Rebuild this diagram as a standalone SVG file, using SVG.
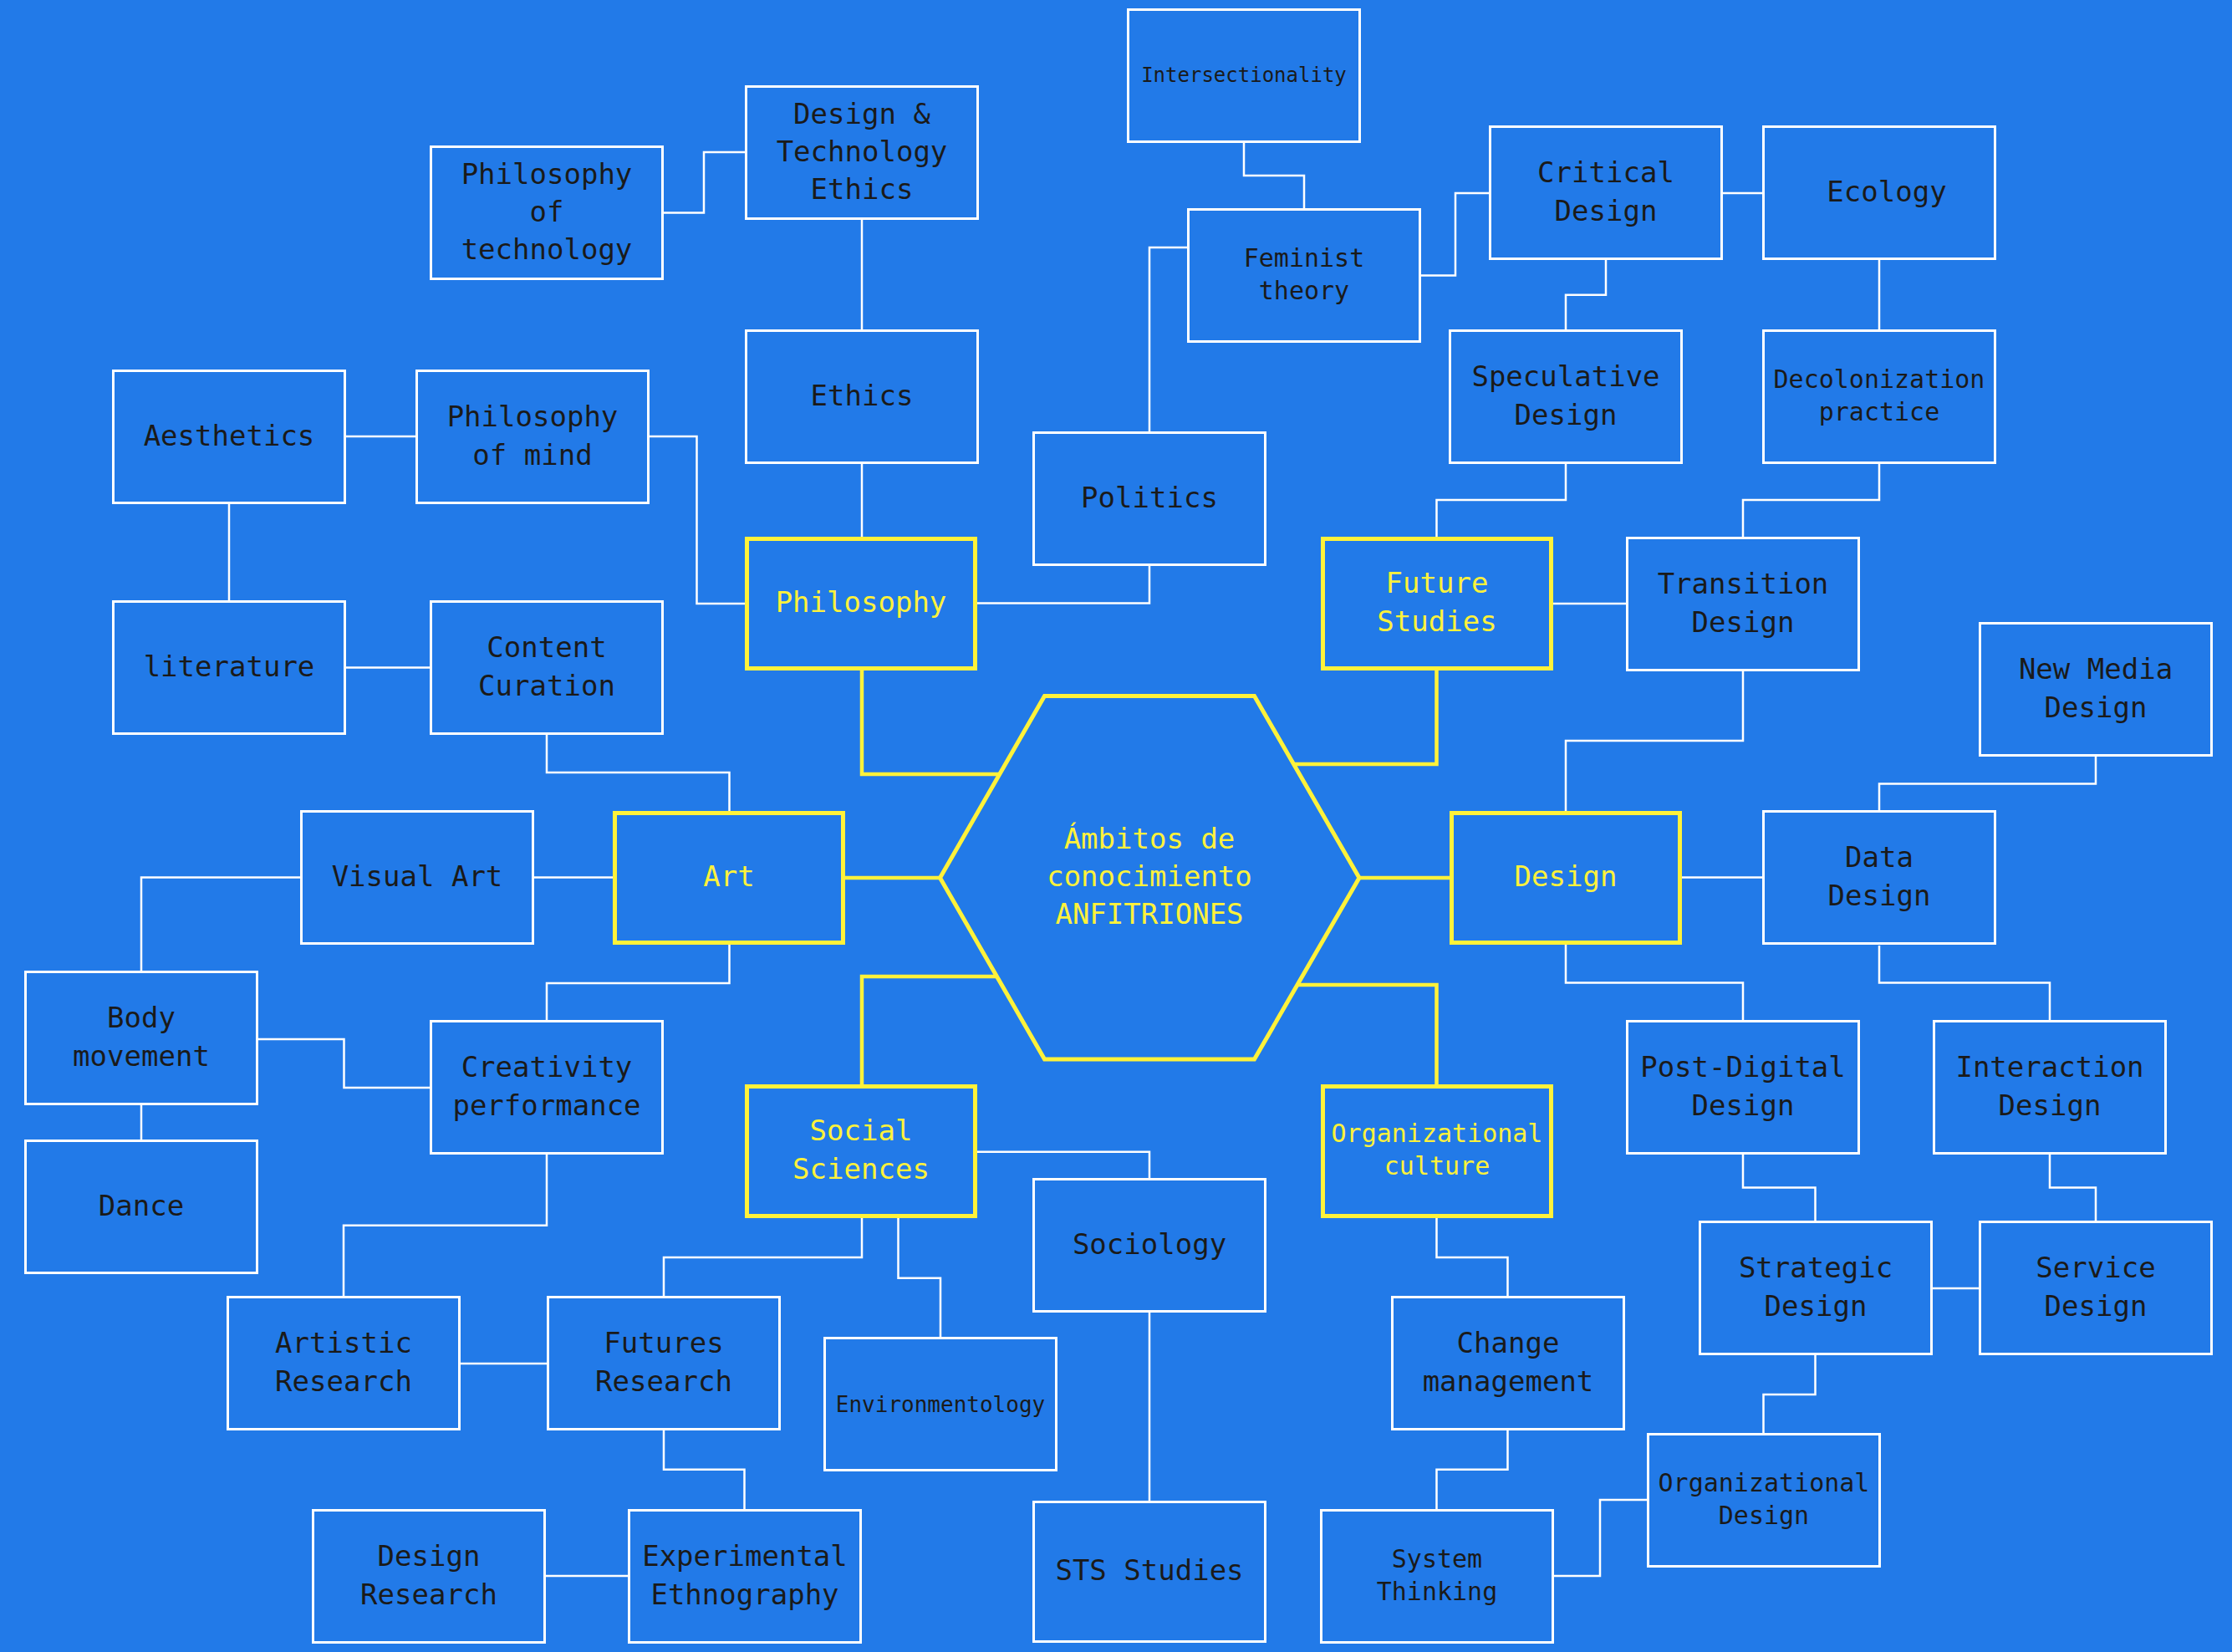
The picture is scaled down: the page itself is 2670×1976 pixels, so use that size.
<svg xmlns="http://www.w3.org/2000/svg" width="2670" height="1976" viewBox="0 0 2670 1976">
<style>
.bg{fill:#227AE8}
.n rect{fill:#227AE8;stroke:#FFFFFF;stroke-width:3}
.k rect,.k polygon{fill:#227AE8;stroke:#FFF23A;stroke-width:5}
text{font-family:"DejaVu Sans Mono","Liberation Mono",monospace;font-size:34px;fill:#1A1A1A;text-anchor:middle}
.k text{fill:#FFF23A}
text.f30{font-size:30px}
text.f26{font-size:26px}
text.f24{font-size:24px}
.c{fill:none;stroke:#FFFFFF;stroke-width:2.5}
.cy{fill:none;stroke:#FFF23A;stroke-width:4.5}
</style>
<rect class="bg" x="0" y="0" width="2670" height="1976"/>
<g id="connectors">
<polyline class="c" points="794,254.5 842,254.5 842,182 891,182"/>
<polyline class="c" points="1031,263 1031,394"/>
<polyline class="c" points="1031,555 1031,642"/>
<polyline class="c" points="1488,171 1488,210 1560,210 1560,249"/>
<polyline class="c" points="1420,296 1375,296 1375,516"/>
<polyline class="c" points="1700,329.5 1741,329.5 1741,231 1781,231"/>
<polyline class="c" points="2061,231 2108,231"/>
<polyline class="c" points="1921,311 1921,352.7 1873,352.7 1873,394"/>
<polyline class="c" points="2248,311 2248,394"/>
<polyline class="c" points="1873,555 1873,598 1718.5,598 1718.5,642"/>
<polyline class="c" points="2248,555 2248,598 2085,598 2085,642"/>
<polyline class="c" points="413,522 497,522"/>
<polyline class="c" points="274,603 274,718"/>
<polyline class="c" points="777,522 833.5,522 833.5,722 891,722"/>
<polyline class="c" points="1375,677 1375,721.5 1169,721.5"/>
<polyline class="c" points="1858,722 1945,722"/>
<polyline class="c" points="413,798.5 514,798.5"/>
<polyline class="c" points="654,879 654,924 872.5,924 872.5,970"/>
<polyline class="c" points="2085,803 2085,886 1873,886 1873,970"/>
<polyline class="c" points="2507,905 2507,937.5 2248,937.5 2248,969"/>
<polyline class="c" points="639,1049.5 733,1049.5"/>
<polyline class="c" points="359,1049.5 169,1049.5 169,1161"/>
<polyline class="c" points="2012,1049.5 2108,1049.5"/>
<polyline class="c" points="872.5,1130 872.5,1176 654,1176 654,1220"/>
<polyline class="c" points="309,1243 411.5,1243 411.5,1301 514,1301"/>
<polyline class="c" points="1873,1130 1873,1175.5 2085,1175.5 2085,1220"/>
<polyline class="c" points="2248,1131 2248,1175.5 2452,1175.5 2452,1220"/>
<polyline class="c" points="169,1322 169,1363"/>
<polyline class="c" points="654,1381 654,1465.7 411,1465.7 411,1550"/>
<polyline class="c" points="1031,1457 1031,1504 794,1504 794,1550"/>
<polyline class="c" points="1074.5,1457 1074.5,1528.7 1125,1528.7 1125,1599"/>
<polyline class="c" points="1169,1377.8 1375,1377.8 1375,1409"/>
<polyline class="c" points="1375,1570 1375,1795"/>
<polyline class="c" points="551,1631 654,1631"/>
<polyline class="c" points="794,1711 794,1757.7 890.5,1757.7 890.5,1805"/>
<polyline class="c" points="653,1885 751,1885"/>
<polyline class="c" points="1718.5,1457 1718.5,1504 1803.5,1504 1803.5,1550"/>
<polyline class="c" points="1803.5,1711 1803.5,1757.7 1718.5,1757.7 1718.5,1805"/>
<polyline class="c" points="1859,1885 1914,1885 1914,1794 1970,1794"/>
<polyline class="c" points="2085,1381 2085,1420.6 2171.5,1420.6 2171.5,1460"/>
<polyline class="c" points="2452,1381 2452,1420.6 2507,1420.6 2507,1460"/>
<polyline class="c" points="2311,1541 2367,1541"/>
<polyline class="c" points="2171.5,1621 2171.5,1668 2109.5,1668 2109.5,1714"/>
<polyline class="cy" points="1031,802 1031,926 1210,926"/>
<polyline class="cy" points="1718.5,802 1718.5,914 1540,914"/>
<polyline class="cy" points="1011,1050 1140,1050"/>
<polyline class="cy" points="1610,1050 1734,1050"/>
<polyline class="cy" points="1205,1168 1031,1168 1031,1297"/>
<polyline class="cy" points="1540,1178 1718.5,1178 1718.5,1297"/>
</g>
<g id="hub" class="k">
<polygon points="1249.5,832.5 1500.5,832.5 1626,1050 1500.5,1267 1249.5,1267 1124.5,1050"/>
<text x="1375" y="1015">Ámbitos de</text>
<text x="1375" y="1060">conocimiento</text>
<text x="1375" y="1105">ANFITRIONES</text>
</g>
<g id="philosophy" class="k"><rect x="893.5" y="644.5" width="273" height="155"/><text x="1030" y="732">Philosophy</text></g>
<g id="future-studies" class="k"><rect x="1582.5" y="644.5" width="273" height="155"/><text x="1719" y="709">Future</text><text x="1719" y="755">Studies</text></g>
<g id="art" class="k"><rect x="735.5" y="972.5" width="273" height="155"/><text x="872" y="1060">Art</text></g>
<g id="design" class="k"><rect x="1736.5" y="972.5" width="273" height="155"/><text x="1873" y="1060">Design</text></g>
<g id="social-sciences" class="k"><rect x="893.5" y="1299.5" width="273" height="155"/><text x="1030" y="1364">Social</text><text x="1030" y="1410">Sciences</text></g>
<g id="organizational-culture" class="k"><rect x="1582.5" y="1299.5" width="273" height="155"/><text class="f30" x="1719" y="1366">Organizational</text><text class="f30" x="1719" y="1405">culture</text></g>
<g id="philosophy-of-technology" class="n"><rect x="515.5" y="175.5" width="277" height="158"/><text x="654" y="219.5">Philosophy</text><text x="654" y="264.5">of</text><text x="654" y="309.5">technology</text></g>
<g id="design-technology-ethics" class="n"><rect x="892.5" y="103.5" width="277" height="158"/><text x="1031" y="147.5">Design &amp;</text><text x="1031" y="192.5">Technology</text><text x="1031" y="237.5">Ethics</text></g>
<g id="intersectionality" class="n"><rect x="1349.5" y="11.5" width="277" height="158"/><text class="f24" x="1488" y="97.5">Intersectionality</text></g>
<g id="feminist-theory" class="n"><rect x="1421.5" y="250.5" width="277" height="158"/><text class="f30" x="1560" y="318.5">Feminist</text><text class="f30" x="1560" y="357.5">theory</text></g>
<g id="critical-design" class="n"><rect x="1782.5" y="151.5" width="277" height="158"/><text x="1921" y="217.5">Critical</text><text x="1921" y="263.5">Design</text></g>
<g id="ecology" class="n"><rect x="2109.5" y="151.5" width="277" height="158"/><text x="2257" y="240.5">Ecology</text></g>
<g id="aesthetics" class="n"><rect x="135.5" y="443.5" width="277" height="158"/><text x="274" y="532.5">Aesthetics</text></g>
<g id="philosophy-of-mind" class="n"><rect x="498.5" y="443.5" width="277" height="158"/><text x="637" y="509.5">Philosophy</text><text x="637" y="555.5">of mind</text></g>
<g id="ethics" class="n"><rect x="892.5" y="395.5" width="277" height="158"/><text x="1031" y="484.5">Ethics</text></g>
<g id="speculative-design" class="n"><rect x="1734.5" y="395.5" width="277" height="158"/><text x="1873" y="461.5">Speculative</text><text x="1873" y="507.5">Design</text></g>
<g id="decolonization-practice" class="n"><rect x="2109.5" y="395.5" width="277" height="158"/><text class="f30" x="2248" y="463.5">Decolonization</text><text class="f30" x="2248" y="502.5">practice</text></g>
<g id="politics" class="n"><rect x="1236.5" y="517.5" width="277" height="158"/><text x="1375" y="606.5">Politics</text></g>
<g id="transition-design" class="n"><rect x="1946.5" y="643.5" width="277" height="158"/><text x="2085" y="709.5">Transition</text><text x="2085" y="755.5">Design</text></g>
<g id="literature" class="n"><rect x="135.5" y="719.5" width="277" height="158"/><text x="274" y="808.5">literature</text></g>
<g id="content-curation" class="n"><rect x="515.5" y="719.5" width="277" height="158"/><text x="654" y="785.5">Content</text><text x="654" y="831.5">Curation</text></g>
<g id="new-media-design" class="n"><rect x="2368.5" y="745.5" width="277" height="158"/><text x="2507" y="811.5">New Media</text><text x="2507" y="857.5">Design</text></g>
<g id="visual-art" class="n"><rect x="360.5" y="970.5" width="277" height="158"/><text x="499" y="1059.5">Visual Art</text></g>
<g id="data-design" class="n"><rect x="2109.5" y="970.5" width="277" height="158"/><text x="2248" y="1036.5">Data</text><text x="2248" y="1082.5">Design</text></g>
<g id="body-movement" class="n"><rect x="30.5" y="1162.5" width="277" height="158"/><text x="169" y="1228.5">Body</text><text x="169" y="1274.5">movement</text></g>
<g id="creativity-performance" class="n"><rect x="515.5" y="1221.5" width="277" height="158"/><text x="654" y="1287.5">Creativity</text><text x="654" y="1333.5">performance</text></g>
<g id="post-digital-design" class="n"><rect x="1946.5" y="1221.5" width="277" height="158"/><text x="2085" y="1287.5">Post-Digital</text><text x="2085" y="1333.5">Design</text></g>
<g id="interaction-design" class="n"><rect x="2313.5" y="1221.5" width="277" height="158"/><text x="2452" y="1287.5">Interaction</text><text x="2452" y="1333.5">Design</text></g>
<g id="dance" class="n"><rect x="30.5" y="1364.5" width="277" height="158"/><text x="169" y="1453.5">Dance</text></g>
<g id="sociology" class="n"><rect x="1236.5" y="1410.5" width="277" height="158"/><text x="1375" y="1499.5">Sociology</text></g>
<g id="strategic-design" class="n"><rect x="2033.5" y="1461.5" width="277" height="158"/><text x="2172" y="1527.5">Strategic</text><text x="2172" y="1573.5">Design</text></g>
<g id="service-design" class="n"><rect x="2368.5" y="1461.5" width="277" height="158"/><text x="2507" y="1527.5">Service</text><text x="2507" y="1573.5">Design</text></g>
<g id="artistic-research" class="n"><rect x="272.5" y="1551.5" width="277" height="158"/><text x="411" y="1617.5">Artistic</text><text x="411" y="1663.5">Research</text></g>
<g id="futures-research" class="n"><rect x="655.5" y="1551.5" width="277" height="158"/><text x="794" y="1617.5">Futures</text><text x="794" y="1663.5">Research</text></g>
<g id="environmentology" class="n"><rect x="986.5" y="1600.5" width="277" height="158"/><text class="f26" x="1125" y="1688.5">Environmentology</text></g>
<g id="change-management" class="n"><rect x="1665.5" y="1551.5" width="277" height="158"/><text x="1804" y="1617.5">Change</text><text x="1804" y="1663.5">management</text></g>
<g id="organizational-design" class="n"><rect x="1971.5" y="1715.5" width="277" height="158"/><text class="f30" x="2110" y="1783.5">Organizational</text><text class="f30" x="2110" y="1822.5">Design</text></g>
<g id="design-research" class="n"><rect x="374.5" y="1806.5" width="277" height="158"/><text x="513" y="1872.5">Design</text><text x="513" y="1918.5">Research</text></g>
<g id="experimental-ethnography" class="n"><rect x="752.5" y="1806.5" width="277" height="158"/><text x="891" y="1872.5">Experimental</text><text x="891" y="1918.5">Ethnography</text></g>
<g id="sts-studies" class="n"><rect x="1236.5" y="1796.5" width="277" height="167"/><text x="1375" y="1890">STS Studies</text></g>
<g id="system-thinking" class="n"><rect x="1580.5" y="1806.5" width="277" height="158"/><text class="f30" x="1719" y="1874.5">System</text><text class="f30" x="1719" y="1913.5">Thinking</text></g>
</svg>
